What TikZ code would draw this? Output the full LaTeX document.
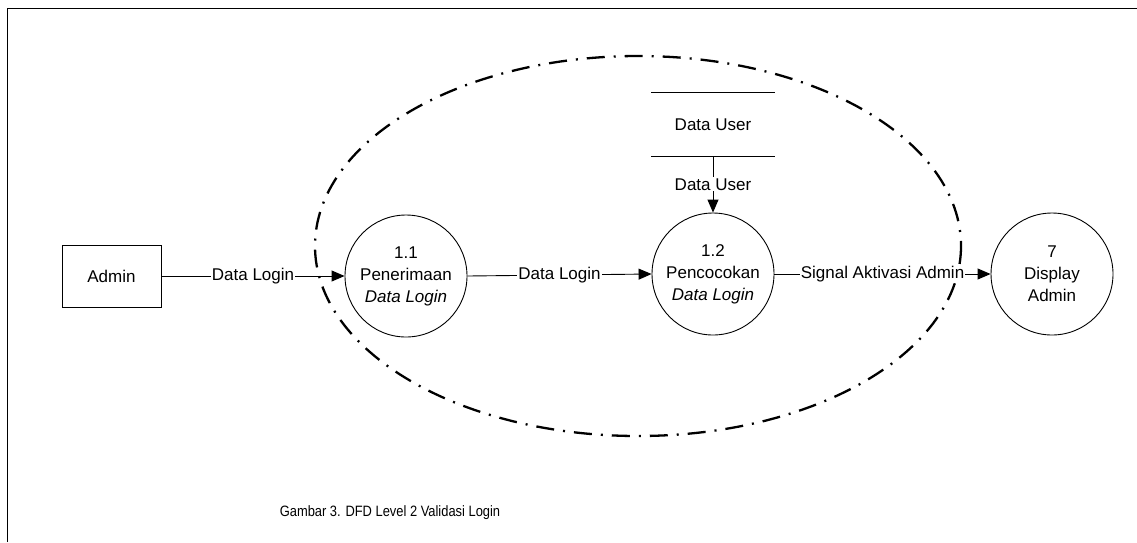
\documentclass[tikz,border=0pt]{standalone}
\usepackage{fontspec}
\setmainfont{Liberation Sans}
\usetikzlibrary{arrows.meta}
\begin{document}
\begin{tikzpicture}[x=1pt,y=-1pt,
  every node/.style={font=\fontsize{17}{22}\selectfont},
  proc/.style={draw,circle,minimum size=122pt,inner sep=0pt,align=center,line width=0.9pt},
  ent/.style={draw,rectangle,minimum width=99pt,minimum height=62pt,inner sep=0pt,line width=0.9pt},
  flow/.style={line width=0.9pt,-{Triangle[length=13pt,width=11pt]}},
  flowlbl/.style={fill=white,inner sep=1pt,midway},
  boundary/.style={line width=2.3pt,dash pattern=on 18pt off 9pt on 2pt off 9pt}
]
\useasboundingbox (0,0) rectangle (1137,542);
% frame
\draw[line width=0.9pt] (7,542) -- (7,8) -- (1137,8);
% boundary
\draw[boundary] (638,246) ellipse [x radius=323, y radius=190];
% nodes
\node[ent] (admin) at (111.5,276) {Admin};
\node[proc] (p11) at (406,276) {1.1\\Penerimaan\\\textit{Data Login}};
\node[proc] (p12) at (713,274) {1.2\\Pencocokan\\\textit{Data Login}};
\node[proc] (p7) at (1052,274) {7\\Display\\Admin};
\node[minimum width=123pt,minimum height=63pt,inner sep=0pt] (store) at (713,124.5) {Data User};
\draw[line width=0.9pt] (store.north west) -- (store.north east);
\draw[line width=0.9pt] (store.south west) -- (store.south east);
% flows
\draw[flow] (admin.east) -- node[flowlbl] {Data Login} (p11.west);
\draw[flow] (p11.east) -- node[flowlbl] {Data Login} (p12.west);
\draw[flow] (p12.east) -- node[flowlbl] {Signal Aktivasi Admin} (p7.west);
\draw[flow] (store.south) -- node[flowlbl] {Data User} (p12.north);
% caption
\node[font=\fontsize{15}{18}\selectfont] (cap) at (390,513) {\scalebox{0.86}[1]{Gambar 3. DFD Level 2 Validasi Login}};
\end{tikzpicture}
\end{document}
